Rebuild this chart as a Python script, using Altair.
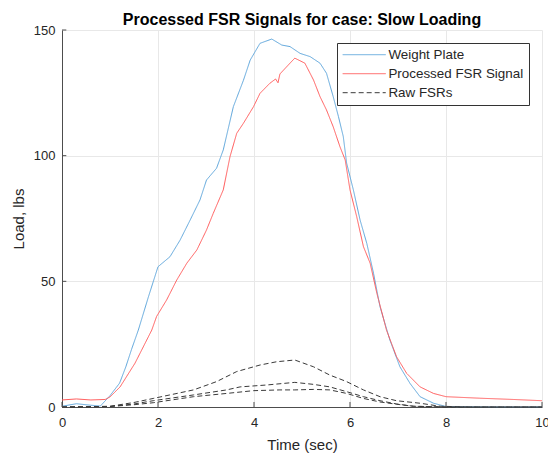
import altair as alt
import pandas as pd

# ---------------- data ----------------
blue_t = [0, 0.3, 0.6, 0.8, 1.0, 1.2, 1.33, 1.45, 1.59, 1.8, 2.0, 2.25, 2.46, 2.67, 2.875,
          3.01, 3.22, 3.36, 3.57, 3.78, 3.92, 4.125, 4.37, 4.58, 4.75, 4.96, 5.17, 5.375,
          5.51, 5.65, 5.76, 5.86, 5.93, 6.07, 6.21, 6.35, 6.49, 6.625, 6.83, 7.04, 7.25,
          7.46, 7.74, 8.0, 9.0, 10.0]
blue_y = [0.3, 1.3, 0.7, 0.4, 4.5, 9.5, 16, 23, 30.6, 43.8, 55.8, 59.8, 66.4, 74.4, 82.4,
          90.3, 95, 102.3, 119.5, 130, 138, 144.7, 146.4, 144, 143.4, 140.7, 139.4, 136.8,
          132.8, 123.5, 115.5, 107.6, 97, 86.4, 74.4, 65.1, 53.2, 39.9, 26.7, 16, 9.4,
          4.1, 1.5, 0.2, 0, 0]

red_t = [0, 0.3, 0.6, 0.9, 1.0, 1.21, 1.52, 1.87, 1.97, 2.18, 2.39, 2.6, 2.81, 3.01, 3.15,
         3.36, 3.5, 3.64, 3.78, 3.99, 4.125, 4.33, 4.45, 4.5, 4.54, 4.75, 4.85, 5.06, 5.24,
         5.375, 5.51, 5.65, 5.79, 5.9, 6.0, 6.14, 6.28, 6.42, 6.56, 6.76, 6.97, 7.18, 7.46,
         7.74, 8.0, 8.7, 9.4, 10.0]
red_y = [2.8, 3.2, 2.8, 3.0, 4.0, 8.0, 17.4, 30.6, 36, 42.6, 50.5, 57.2, 62.5, 70.4, 77,
         86.4, 99.6, 108.9, 112.9, 119.5, 124.8, 128.8, 130.5, 129.0, 132.5, 136.8, 138.8,
         136.8, 130.1, 123.5, 118.2, 111.5, 103.6, 98.3, 86.4, 75.7, 63.8, 57.2, 45.2,
         30.6, 20, 13.4, 8, 5.4, 4.1, 3.5, 3.0, 2.5]

raw1_t = [0, 0.5, 1.0, 1.5, 1.9, 2.74, 3.22, 3.64, 4.125, 4.47, 4.85, 5.24, 5.58, 5.93,
          6.28, 6.625, 6.97, 7.46, 7.875, 8.5, 10.0]
raw1_y = [0, 0.1, 0.3, 1.8, 3.4, 6.8, 10.1, 14.1, 16.7, 18.0, 18.7, 16.0, 12.7, 10.1,
          6.8, 4.1, 2.5, 1.5, 0.3, 0, 0]

raw2_t = [0, 0.5, 1.0, 1.5, 1.9, 2.74, 3.43, 3.71, 4.26, 4.85, 5.24, 5.58, 5.93, 6.28,
          6.625, 6.97, 7.32, 8.0, 10.0]
raw2_y = [0, 0.1, 0.2, 1.2, 2.5, 4.8, 6.8, 8.0, 8.75, 9.8, 9.0, 8.0, 6.1, 4.1, 2.5, 1.2,
          0.3, 0, 0]

raw3_t = [0, 0.5, 1.0, 1.5, 1.9, 2.74, 3.43, 3.99, 4.54, 4.85, 5.24, 5.58, 5.93, 6.28,
          6.625, 6.97, 7.32, 8.0, 10.0]
raw3_y = [0, 0.1, 0.2, 0.9, 1.7, 4.1, 5.4, 6.5, 6.8, 6.8, 7.0, 6.8, 5.4, 3.4, 2.0, 1.1,
          0.3, 0, 0]

series_names = ["Weight Plate", "Processed FSR Signal", "Raw FSRs"]
series_colors = ["#5ea6dc", "#ff5a5a", "#3a3a3a"]
series_dash = [[1, 0], [1, 0], [5, 3]]

x_ticks = [0, 2, 4, 6, 8, 10]
y_ticks = [0, 50, 100, 150]

# ---------------- build long table ----------------
rows = []
for name, line, ts, ys in [
    ("Weight Plate", "wp", blue_t, blue_y),
    ("Processed FSR Signal", "fsr", red_t, red_y),
    ("Raw FSRs", "raw1", raw1_t, raw1_y),
    ("Raw FSRs", "raw2", raw2_t, raw2_y),
    ("Raw FSRs", "raw3", raw3_t, raw3_y),
]:
    for i, (t, y) in enumerate(zip(ts, ys)):
        rows.append({"t": t, "load": y, "series": name, "line": line, "order": i})
df = pd.DataFrame(rows)

FONT = "Liberation Sans"
TXT = "#262626"

xs = alt.Scale(domain=[0, 10], nice=False, zero=False)
ys = alt.Scale(domain=[0, 150], nice=False)

legend = alt.Legend(
    title=None, orient="none", legendX=275, legendY=13,
    symbolType="M-4,0H4", symbolSize=116, symbolStrokeWidth=1, symbolOffset=15.5,
    labelFontSize=13.4, labelFont=FONT, labelColor=TXT, labelOffset=17.5,
    strokeColor="#333333", fillColor="white", padding=5, rowPadding=4,
)

lines = alt.Chart(df).mark_line(strokeWidth=1, interpolate="linear").encode(
    x=alt.X("t:Q", scale=xs, title="Time (sec)",
            axis=alt.Axis(values=x_ticks, format="d", grid=True)),
    y=alt.Y("load:Q", scale=ys, title="Load, lbs",
            axis=alt.Axis(values=y_ticks, format="d", grid=True)),
    color=alt.Color("series:N", scale=alt.Scale(domain=series_names, range=series_colors),
                    legend=legend),
    strokeDash=alt.StrokeDash("series:N", scale=alt.Scale(domain=series_names, range=series_dash),
                              legend=legend),
    detail="line:N",
    order="order:Q",
)

# inward tick marks (MATLAB style)
xt = pd.DataFrame({"t": x_ticks, "y0": [0] * len(x_ticks), "y1": [2.0] * len(x_ticks)})
yt = pd.DataFrame({"v": y_ticks, "x0": [0] * len(y_ticks), "x1": [0.09] * len(y_ticks)})
xtick_layer = alt.Chart(xt).mark_rule(color="#4d4d4d", strokeWidth=1).encode(
    x=alt.X("t:Q", scale=xs), y=alt.Y("y0:Q", scale=ys), y2="y1:Q")
ytick_layer = alt.Chart(yt).mark_rule(color="#4d4d4d", strokeWidth=1).encode(
    y=alt.Y("v:Q", scale=ys), x=alt.X("x0:Q", scale=xs), x2="x1:Q")

chart = alt.layer(lines, xtick_layer, ytick_layer).properties(
    width=480, height=377,
    title=alt.TitleParams("Processed FSR Signals for case: Slow Loading", fontSize=16,
                          font=FONT, fontWeight="bold", color="#000000", offset=-4,
                          anchor="middle"),
    autosize=alt.AutoSizeParams(type="none"),
    padding={"left": 62, "top": 30, "right": 6, "bottom": 49},
).configure_view(stroke=None).configure_axis(
    labelFont=FONT, labelFontSize=13, labelColor=TXT, labelFlush=False,
    titleFont=FONT, titleFontSize=15, titleFontWeight="normal", titleColor=TXT,
    domainColor="#4d4d4d", domainWidth=1, tickSize=0, gridColor="#e8e8e8", gridWidth=1,
).configure_axisX(labelPadding=9, titlePadding=8).configure_axisY(
    labelPadding=7, titlePadding=7
)

chart.save("out.html", embed_options={"renderer": "svg", "actions": False})
